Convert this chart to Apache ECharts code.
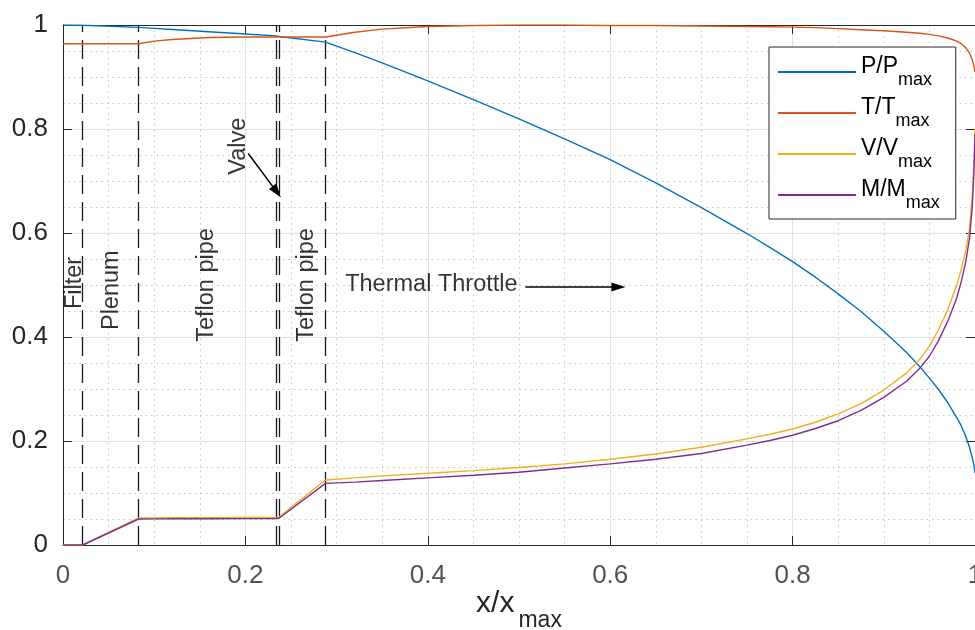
<!DOCTYPE html>
<html><head><meta charset="utf-8">
<script src="https://cdn.jsdelivr.net/npm/echarts@6/dist/echarts.min.js"></script>
<style>html,body{margin:0;padding:0;background:#fff}#c{width:975px;height:630px}</style>
</head><body><div id="c"></div>
<script>
// ---- data ----
const xPos   = [0, 0.0216, 0.083, 0.1, 0.12, 0.16, 0.2, 0.2339, 0.2372, 0.2878, 0.32, 0.35, 0.4, 0.45, 0.5, 0.55, 0.6, 0.65, 0.7, 0.75, 0.775, 0.8, 0.825, 0.85, 0.875, 0.9, 0.925, 0.94, 0.95, 0.96, 0.97, 0.98, 0.985, 0.99, 0.994, 0.997, 0.999, 1.0];
const pRatio = [1.0, 0.9995, 0.9955, 0.9936, 0.9914, 0.987, 0.9827, 0.979, 0.978, 0.967, 0.947, 0.927, 0.8925, 0.8565, 0.8195, 0.781, 0.741, 0.6965, 0.649, 0.599, 0.5725, 0.545, 0.515, 0.483, 0.449, 0.411, 0.370, 0.342, 0.321, 0.299, 0.274, 0.245, 0.229, 0.208, 0.188, 0.168, 0.151, 0.138];
const tRatio = [0.964, 0.964, 0.964, 0.969, 0.972, 0.976, 0.977, 0.977, 0.977, 0.977, 0.986, 0.992, 0.997, 0.999, 1.0, 1.0, 0.999, 0.999, 0.998, 0.997, 0.9965, 0.996, 0.995, 0.993, 0.991, 0.989, 0.986, 0.984, 0.982, 0.979, 0.975, 0.969, 0.964, 0.956, 0.946, 0.933, 0.92, 0.91];
const vRatio = [0, 0, 0.052, 0.0522, 0.0524, 0.0526, 0.0528, 0.053, 0.054, 0.125, 0.129, 0.133, 0.138, 0.143, 0.149, 0.156, 0.165, 0.175, 0.188, 0.204, 0.213, 0.223, 0.236, 0.252, 0.272, 0.298, 0.331, 0.358, 0.383, 0.414, 0.452, 0.500, 0.530, 0.567, 0.61, 0.67, 0.74, 0.80];
const mRatio = [0, 0, 0.050, 0.0502, 0.0504, 0.0506, 0.0508, 0.051, 0.052, 0.1186, 0.121, 0.124, 0.129, 0.134, 0.140, 0.148, 0.156, 0.165, 0.176, 0.192, 0.201, 0.211, 0.224, 0.239, 0.259, 0.284, 0.315, 0.341, 0.363, 0.393, 0.430, 0.475, 0.507, 0.546, 0.59, 0.65, 0.725, 0.79];
const seriesNames = ['P/P', 'T/T', 'V/V', 'M/M'];
const xTickValues = [0, 0.2, 0.4, 0.6, 0.8, 1];
const xTickLabels = ['0', '0.2', '0.4', '0.6', '0.8', '1'];
const yTickLabels = ['0', '0.2', '0.4', '0.6', '0.8', '1'];
const boundaries = [0.0216, 0.083, 0.2339, 0.2372, 0.2878];
const annotationTexts = ['Filter', 'Plenum', 'Teflon pipe', 'Valve', 'Teflon pipe', 'Thermal Throttle'];

// ---- annotation placement (data coordinates) ----
const annotationAt = [[0.0125, 0.504], [0.0535, 0.49], [0.1575, 0.5], [0.1925, 0.767], [0.2668, 0.5], [0.3094, 0.5]];
const annotationRot = [90, 90, 90, 90, 90, 0];
const arrows = [[[0.507, 0.496], [0.609, 0.496]], [[0.2031, 0.753], [0.2344, 0.679]]];

const colors = ['#0072BD', '#D95319', '#EDB120', '#7E2F8E'];
const FONT = 'Liberation Sans, Arial, Helvetica, sans-serif';
const AX = '#262626';
const lists = [pRatio, tRatio, vRatio, mRatio];

const tickFmt = arr => v => { const i = Math.round(v / 0.2); return arr[i] !== undefined ? arr[i] : ''; };

const baseAxis = {
  type: 'value', min: 0, max: 1, interval: 0.2,
  axisLine: { show: true, onZero: false, lineStyle: { color: AX, width: 1 } },
  axisTick: { show: true, inside: true, length: 9, lineStyle: { color: AX, width: 1 } },
  minorTick: { show: false, splitNumber: 4 }
};

const series = seriesNames.map((n, k) => ({
  name: n, type: 'line', symbol: 'none', showSymbol: false,
  data: xPos.map((x, i) => [x, lists[k][i]]),
  lineStyle: { color: colors[k], width: 1.4 }, itemStyle: { color: colors[k] },
  z: 5, silent: true
}));

series.push({
  name: 'bounds', type: 'line', data: [], silent: true, z: 3,
  markLine: {
    silent: true, symbol: ['none', 'none'], label: { show: false },
    lineStyle: { color: '#1a1a1a', width: 1.3, type: [19, 8] },
    emphasis: { disabled: true },
    data: boundaries.map(x => [{ coord: [x, 0] }, { coord: [x, 1] }])
  }
});

// x tick labels, placed under the bottom axis at each tick value
series.push({
  name: 'xticklabels', type: 'scatter', symbolSize: 0, silent: true, z: 6, clip: false,
  data: xTickValues.map((v, i) => ({ value: [v, 0], name: xTickLabels[i] })),
  label: {
    show: true, position: 'bottom', distance: 18, formatter: p => p.name,
    fontSize: 26, fontFamily: FONT, color: AX, align: 'center', verticalAlign: 'top'
  }
});

series.push({
  name: 'notes', type: 'scatter', symbolSize: 0, silent: true, z: 6,
  data: annotationTexts.map((t, i) => ({
    value: annotationAt[i], name: t,
    label: {
      show: true, formatter: t, rotate: annotationRot[i], position: 'inside',
      align: annotationRot[i] === 0 ? 'left' : 'center', verticalAlign: 'middle',
      fontSize: 23.5, fontFamily: FONT, color: '#000'
    }
  })),
  markLine: {
    silent: true, symbol: ['none', 'triangle'], symbolSize: [9, 14], label: { show: false },
    lineStyle: { color: '#000', width: 1.5, type: 'solid' },
    emphasis: { disabled: true },
    data: arrows.map(a => [{ coord: a[0] }, { coord: a[1] }])
  }
});

const chart = echarts.init(document.getElementById('c'), null, { renderer: 'canvas' });
chart.setOption({
  animation: false,
  backgroundColor: '#fff',
  grid: { left: 63, right: 0, top: 25, bottom: 85, outerBounds: { left: -60, right: -60, top: -60, bottom: -60 } },
  legend: {
    data: seriesNames, orient: 'vertical', left: 769, top: 47,
    itemWidth: 78, itemHeight: 10, itemGap: 7, padding: [8, 16, 7, 8],
    borderColor: AX, borderWidth: 1, backgroundColor: '#fff',
    itemStyle: { opacity: 0 },
    formatter: n => '{m|' + n + '}{s|max}',
    textStyle: {
      color: '#000', fontFamily: FONT,
      rich: {
        m: { fontSize: 23, lineHeight: 23, verticalAlign: 'top', fontFamily: FONT, color: '#000' },
        s: { fontSize: 18, lineHeight: 34, verticalAlign: 'bottom', fontFamily: FONT, color: '#000' }
      }
    },
    selectedMode: false
  },
  xAxis: [
    Object.assign({}, baseAxis, {
      position: 'bottom',
      axisLabel: { show: false },
      splitLine: { show: true, lineStyle: { color: '#e2e2e2', width: 1 } },
      minorSplitLine: { show: true, lineStyle: { color: '#c4c4c4', width: 1, type: [1.5, 4] } },
      name: '{m|x/x}{s|max}', nameLocation: 'middle', nameGap: 44, nameMoveOverlap: false,
      nameTextStyle: {
        fontFamily: FONT, color: AX,
        rich: {
          m: { fontSize: 30, lineHeight: 30, verticalAlign: 'top', fontFamily: FONT, color: AX },
          s: { fontSize: 23, lineHeight: 43, verticalAlign: 'bottom', padding: [0, 0, 0, 4], fontFamily: FONT, color: AX }
        }
      }
    }),
    Object.assign({}, baseAxis, {
      position: 'top', axisLabel: { show: false }, splitLine: { show: false }
    })
  ],
  yAxis: [
    Object.assign({}, baseAxis, {
      position: 'left',
      axisLabel: { fontSize: 26, color: AX, margin: 15, fontFamily: FONT, formatter: tickFmt(yTickLabels) },
      splitLine: { show: true, lineStyle: { color: '#e2e2e2', width: 1 } },
      minorSplitLine: { show: true, lineStyle: { color: '#c4c4c4', width: 1, type: [1.5, 4] } }
    }),
    Object.assign({}, baseAxis, {
      position: 'right', axisLabel: { show: false }, splitLine: { show: false }
    })
  ],
  series: series
});
</script>
</body></html>
